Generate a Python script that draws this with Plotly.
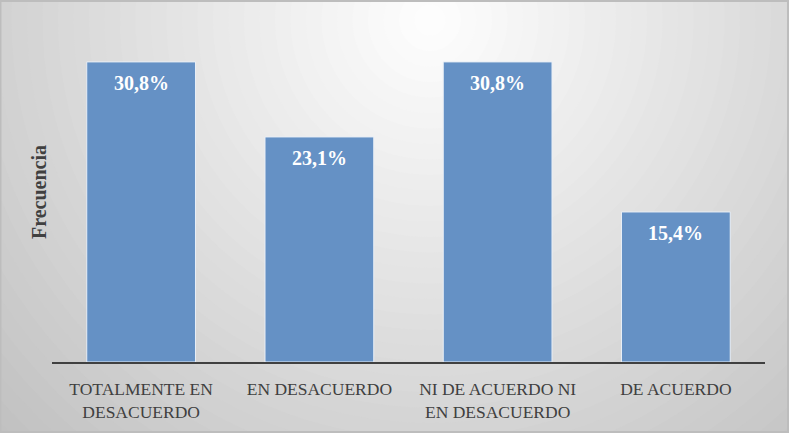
import plotly.graph_objects as go

categories = ["TOTALMENTE EN<br>DESACUERDO", "EN DESACUERDO",
              "NI DE ACUERDO NI<br>EN DESACUERDO", "DE ACUERDO"]
values = [30.8, 23.1, 30.8, 15.4]
labels = ["30,8%", "23,1%", "30,8%", "15,4%"]

W, H = 789, 433
ml, mr, mt, mb = 52, 24, 21, 71
pw, ph = W - ml - mr, H - mt - mb

fig = go.Figure()

fig.add_trace(go.Bar(
    x=categories, y=values,
    marker=dict(color="#6591c5", line=dict(color="#e8eef6", width=1)),
    hoverinfo="skip",
))

# data labels near the top of each bar
for c, v, t in zip(categories, values, labels):
    fig.add_annotation(x=c, y=v, text="<b>%s</b>" % t, showarrow=False,
                       yanchor="middle", yshift=-21,
                       font=dict(family="Liberation Serif", size=20, color="white"))

# radial grey background made of stacked circles (pixel -> paper)
def px(x):
    return (x - ml) / pw

def py(y):
    return (H - mb - y) / ph

cx, cy = 430, 20
n = 40
rmax = 620
for i in range(n):
    r = rmax * (1 - i / n)
    g = int(round(255 - 62 * (r / 600)))
    g = max(min(g, 255), 190)
    fig.add_shape(type="circle", xref="paper", yref="paper", layer="below",
                  x0=px(cx - r), x1=px(cx + r), y0=py(cy + r), y1=py(cy - r),
                  line=dict(width=0), fillcolor="rgb(%d,%d,%d)" % (g, g, g))

# outer border of the chart area
fig.add_shape(type="rect", xref="paper", yref="paper", layer="below",
              x0=px(0.5), x1=px(W - 1), y0=py(H - 1), y1=py(1),
              line=dict(color="#bdbdbd", width=2), fillcolor="rgba(0,0,0,0)")

fig.add_annotation(text="<b>Frecuencia</b>", xref="paper", yref="paper",
                   x=px(39), y=py(192), xanchor="center", yanchor="middle",
                   textangle=-90, showarrow=False,
                   font=dict(family="Liberation Serif", size=20, color="#404040"))

fig.update_layout(
    width=W, height=H,
    margin=dict(l=ml, r=mr, t=mt, b=mb),
    paper_bgcolor="#d0d0d0",
    plot_bgcolor="rgba(0,0,0,0)",
    bargap=0.39,
    showlegend=False,
    font=dict(family="Liberation Serif", color="#404040"),
)
fig.update_xaxes(showline=True, linecolor="#404040", linewidth=2,
                 showgrid=False, ticks="outside", ticklen=10,
                 tickcolor="rgba(0,0,0,0)",
                 tickfont=dict(family="Liberation Serif", size=17.5, color="#404040"))
fig.update_yaxes(range=[0, 35], showgrid=False, zeroline=False,
                 showticklabels=False, showline=False)

# page has a default body margin; remove it so the chart sits at 0,0
fig.write_html("out.html", config={"displayModeBar": False},
               post_script="document.body.style.margin='0';")
